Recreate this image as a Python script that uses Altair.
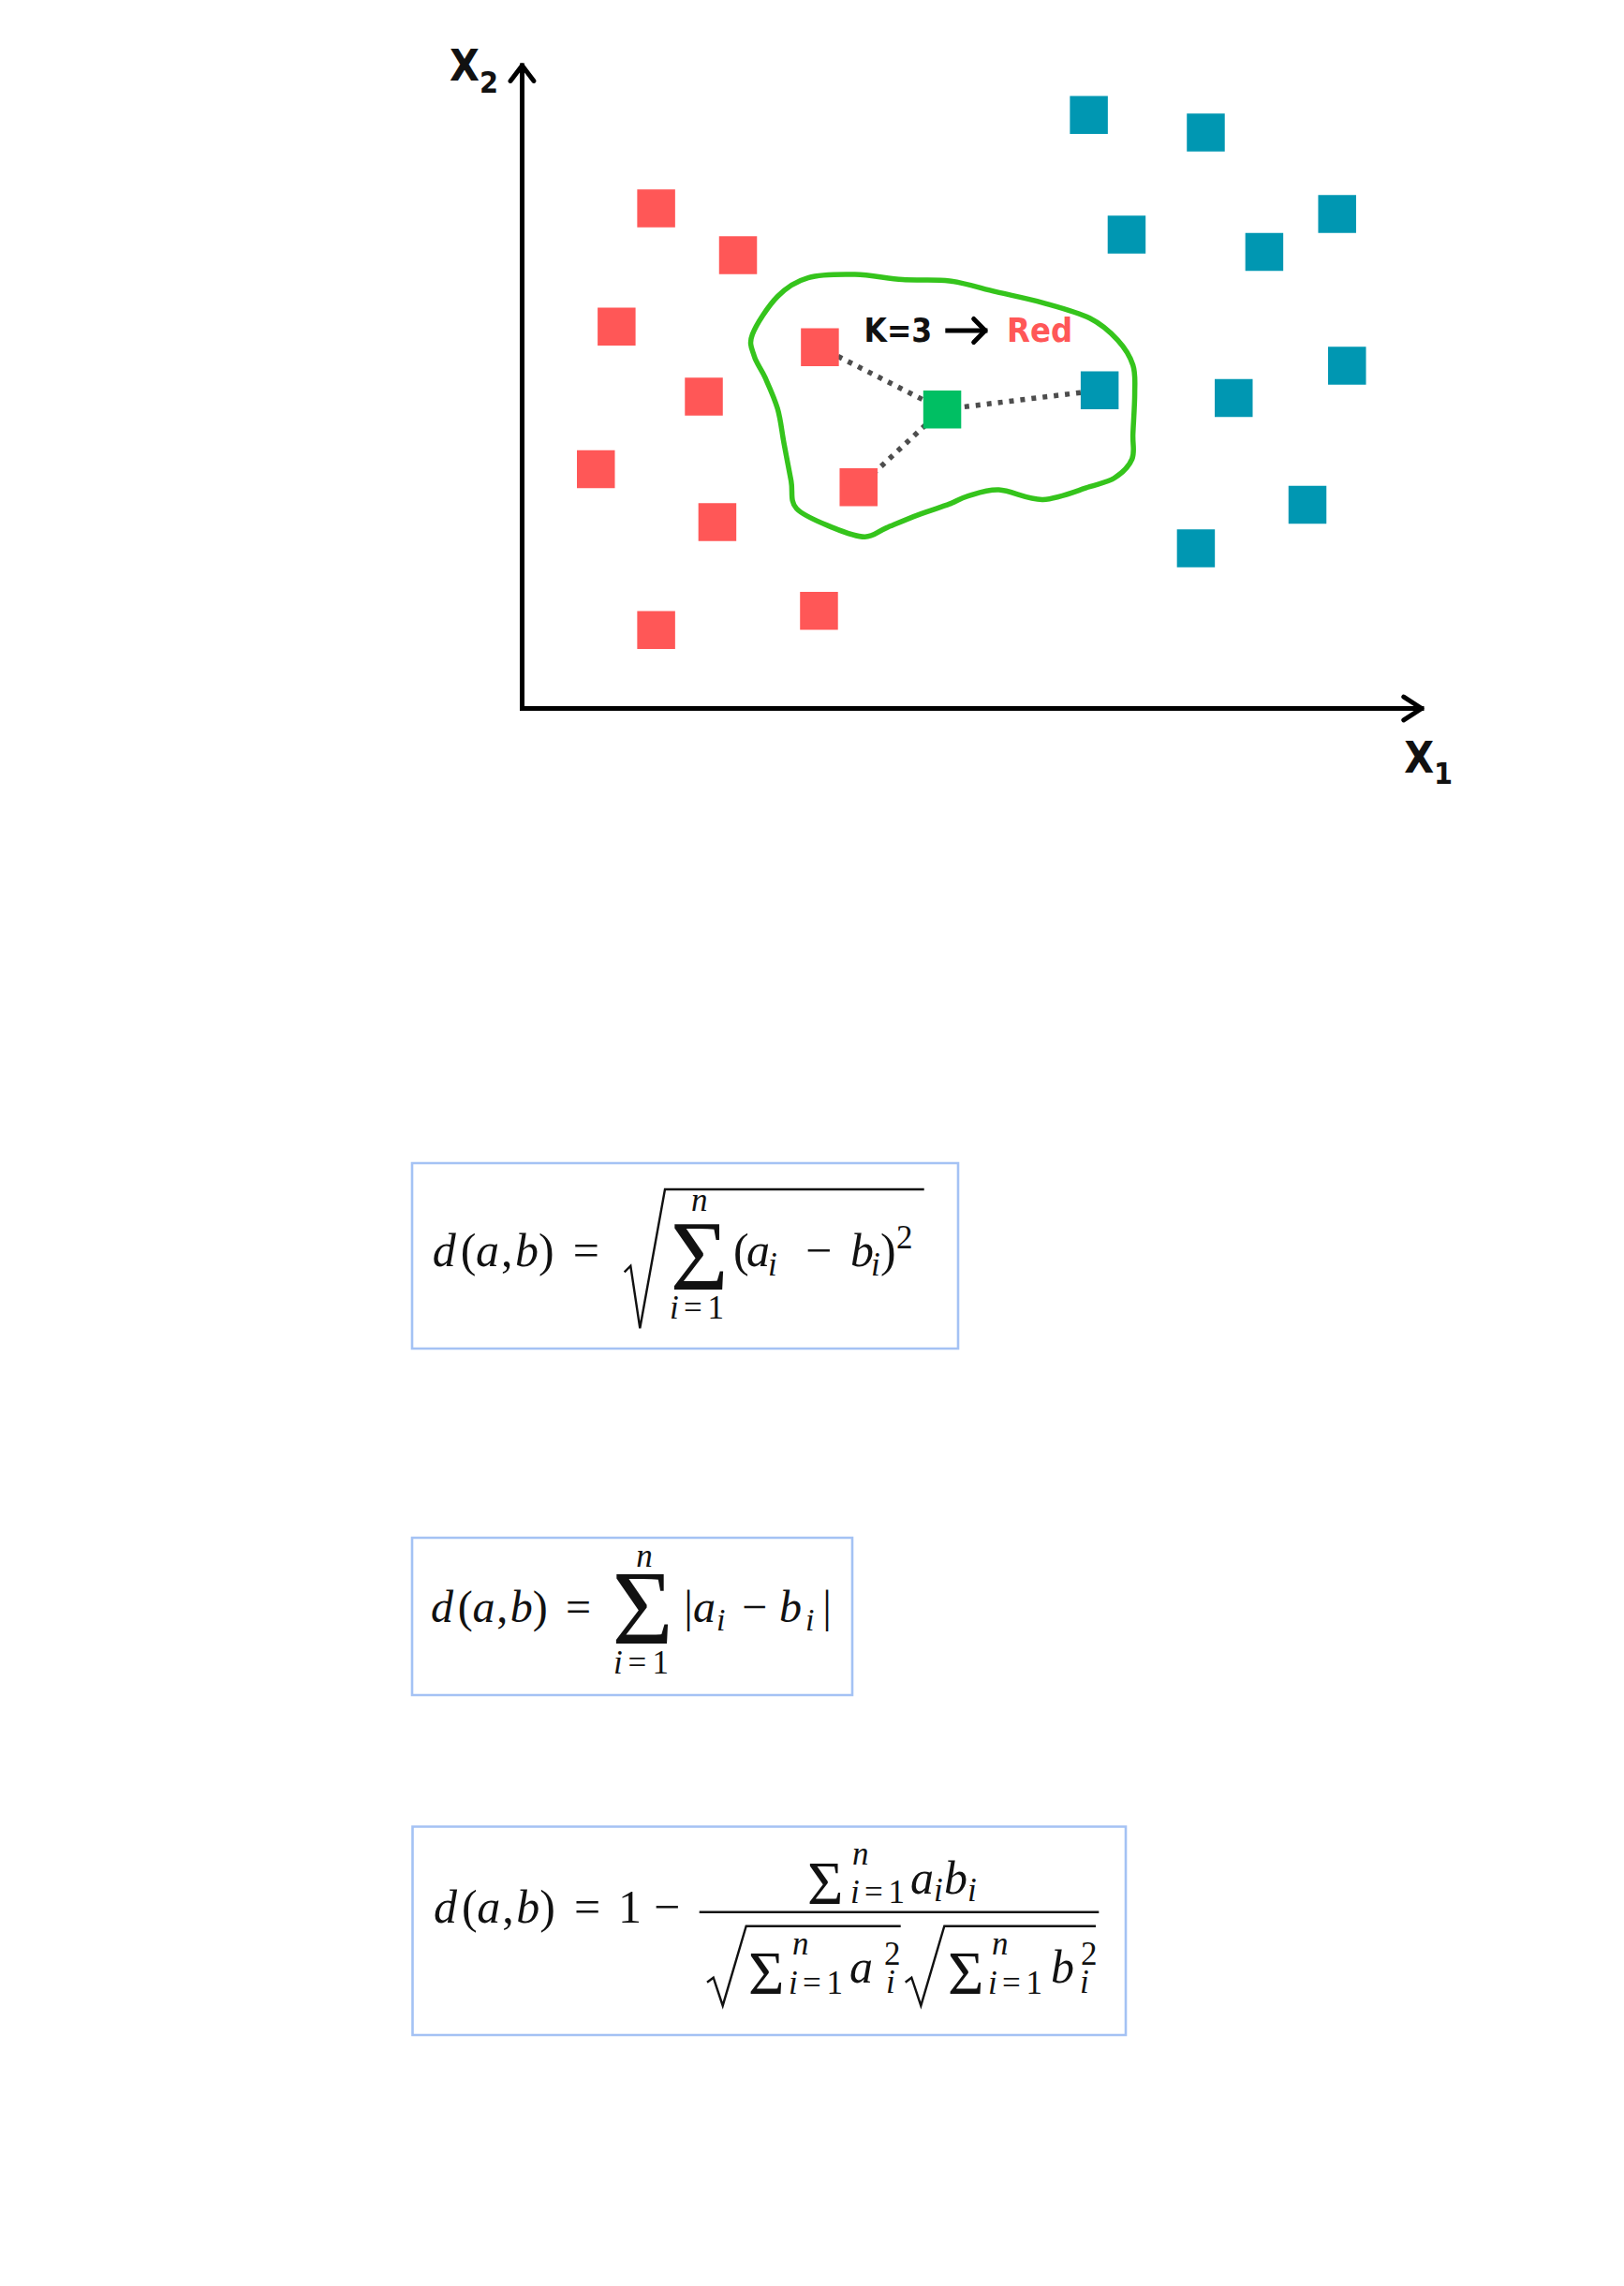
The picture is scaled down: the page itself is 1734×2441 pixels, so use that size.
import altair as alt
import pandas as pd

# ---------------- scatter data (axis units: origin 0, arrow tips at 10) ----------------
red_x1 = [1.49, 2.40, 1.05, 3.31, 2.02, 0.82, 3.74, 2.17, 3.30, 1.49]
red_x2 = [7.78, 7.05, 5.94, 5.62, 4.85, 3.72, 3.44, 2.90, 1.52, 1.22]
blue_x1 = [6.30, 7.60, 6.72, 8.25, 9.06, 6.42, 7.91, 9.17, 8.73, 7.49]
blue_x2 = [9.23, 8.96, 7.37, 7.10, 7.69, 4.95, 4.83, 5.33, 3.17, 2.49]
new_x1 = [4.67]
new_x2 = [4.65]
# the three nearest neighbours (k = 3): two red, one blue
nb_x1 = [3.31, 3.74, 6.42]
nb_x2 = [5.62, 3.44, 4.95]

# hand-drawn neighbourhood outline
blob_x1 = [2.56, 2.84, 3.18, 3.70, 4.23, 4.75, 5.27, 5.79, 6.31, 6.62, 6.79, 6.81, 6.79,
           6.78, 6.59, 6.31, 5.79, 5.30, 4.95, 4.75, 4.40, 4.05, 3.81, 3.46, 3.05, 2.99,
           2.91, 2.84, 2.70, 2.58]
blob_x2 = [5.82, 6.41, 6.70, 6.75, 6.67, 6.65, 6.48, 6.31, 6.07, 5.73, 5.34, 4.90, 4.27,
           3.88, 3.59, 3.45, 3.25, 3.40, 3.30, 3.18, 3.01, 2.81, 2.67, 2.81, 3.11, 3.54,
           4.13, 4.66, 5.15, 5.48]

RED, BLUE, GREEN = "#FF5757", "#0097B2", "#00BF63"
HAND = "'Liberation Sans Narrow', 'DejaVu Sans Condensed', 'Roboto Condensed', Roboto, sans-serif"
MATH = "'Liberation Serif'"
OFF = 8  # page margin

xs = alt.Scale(domain=[0, 10], range=[549.5, 1510], nice=False, zero=False)
ys = alt.Scale(domain=[0, 10], range=[748.5, 62], nice=False, zero=False)
X = lambda f: alt.X(f, scale=xs, axis=None)
Y = lambda f: alt.Y(f, scale=ys, axis=None)

pts = pd.DataFrame({
    "x1": red_x1 + blue_x1 + new_x1,
    "x2": red_x2 + blue_x2 + new_x2,
    "cls": ["Red"] * len(red_x1) + ["Blue"] * len(blue_x1) + ["New"],
})
squares = alt.Chart(pts).mark_square(size=1640, opacity=1, strokeWidth=0).encode(
    x=X("x1:Q"), y=Y("x2:Q"),
    color=alt.Color("cls:N", scale=alt.Scale(domain=["Red", "Blue", "New"],
                                             range=[RED, BLUE, GREEN]), legend=None),
)

nb = pd.DataFrame({"x1": new_x1 * 3, "x2": new_x2 * 3, "ex1": nb_x1, "ex2": nb_x2})
links = alt.Chart(nb).mark_rule(color="#4d4d4d", strokeWidth=5.5, strokeDash=[5, 7]).encode(
    x=X("x1:Q"), y=Y("x2:Q"), x2="ex1:Q", y2="ex2:Q")

blob = pd.DataFrame({"x1": blob_x1, "x2": blob_x2, "o": list(range(len(blob_x1)))})
outline = alt.Chart(blob).mark_line(interpolate="cardinal-closed", color="#35C41C",
                                    strokeWidth=5.5).encode(
    x=X("x1:Q"), y=Y("x2:Q"), order=alt.Order("o:Q"))

axes_df = pd.DataFrame({"x1": [0, 0, 4.73], "x2": [0, 0, 5.878],
                        "ex1": [0, 10, 5.148], "ex2": [10, 0, 5.878]})
axes = alt.Chart(axes_df).mark_rule(color="black", strokeWidth=5, strokeCap="square").encode(
    x=X("x1:Q"), y=Y("x2:Q"), x2="ex1:Q", y2="ex2:Q")

# arrow heads: y axis, x axis and the "K=3 -> Red" arrow
arrow_df = pd.DataFrame({
    "id": ["y"] * 3 + ["x"] * 3 + ["k"] * 3,
    "o": [0, 1, 2] * 3,
    "x1": [-0.13, 0, 0.13, 9.80, 10, 9.80, 5.02, 5.148, 5.02],
    "x2": [9.76, 10, 9.76, 0.18, 0, -0.18, 6.06, 5.878, 5.696],
})
arrows = alt.Chart(arrow_df).mark_line(color="black", strokeWidth=5, strokeCap="round",
                                       strokeJoin="round").encode(
    x=X("x1:Q"), y=Y("x2:Q"), detail="id:N", order=alt.Order("o:Q"))

lab = pd.DataFrame({
    "t": ["K=3", "Red", "X", "2", "X", "1"],
    "x1": [3.80, 5.388, -0.807, -0.474, 9.804, 10.135],
    "x2": [5.870, 5.870, 9.97, 9.716, -0.801, -1.034],
    "s": [35, 36, 46, 32, 46, 32],
    "c": ["#111111", RED, "#111111", "#111111", "#111111", "#111111"],
})
labels = alt.Chart(lab).mark_text(font=HAND, fontWeight="bold", align="left",
                                  baseline="middle").encode(
    x=X("x1:Q"), y=Y("x2:Q"), text="t:N",
    size=alt.Size("s:Q", scale=None, legend=None),
    color=alt.Color("c:N", scale=None))

# ---------------- formulas (typeset tokens, page pixel positions) ----------------
toks = []


def tk(t, x, y, s, st="normal", al="left"):
    toks.append({"t": t, "x": x - OFF, "y": y - OFF, "s": s, "st": st, "al": al})


def dab(x0, base, s=1.0):
    f = 50 * s
    tk("d", x0, base, f, "italic")
    tk("(", x0 + 30 * s, base, f)
    tk("a", x0 + 46.3 * s, base, f, "italic")
    tk(",", x0 + 73.3 * s, base, f)
    tk("b", x0 + 88.3 * s, base, f, "italic")
    tk(")", x0 + 113.3 * s, base, f)
    tk("=", x0 + 150 * s, base, f)


def lim(x0, x1, base, f=35):
    tk("i", x0, base, f, "italic")
    tk("=", x0 + 0.43 * (x1 - x0), base, f, "normal", "center")
    tk("1", x1, base, f, "normal", "right")


# Euclidean
dab(461.7, 1352)
tk("\u03a3", 746.7, 1377, 106, "normal", "center")
tk("n", 746.7, 1293, 35, "italic", "center")
lim(715, 773, 1408)
tk("(", 783, 1352, 50)
tk("a", 797, 1352, 50, "italic")
tk("i", 820, 1362, 35, "italic")
tk("\u2212", 860, 1352, 50)
tk("b", 908, 1352, 50, "italic")
tk("i", 930, 1362, 35, "italic")
tk(")", 940, 1352, 50)
tk("2", 957, 1333, 35)

# Manhattan
dab(460, 1732, 0.96)
tk("\u03a3", 686, 1755, 112, "normal", "center")
tk("n", 688, 1673, 35, "italic", "center")
lim(655, 714, 1787)
tk("|", 735, 1732, 48, "normal", "center")
tk("a", 740, 1732, 48, "italic")
tk("i", 765, 1741, 34, "italic")
tk("\u2212", 792, 1732, 48)
tk("b", 832, 1732, 48, "italic")
tk("i", 860, 1741, 34, "italic")
tk("|", 883, 1732, 48, "normal", "center")

# Cosine
dab(463, 2053)
tk("1", 660, 2053, 50)
tk("\u2212", 698, 2053, 50)
tk("\u03a3", 862, 2033, 66)
tk("n", 910, 1991, 35, "italic")
lim(908, 966, 2032)
tk("a", 972, 2022, 50, "italic")
tk("i", 997, 2030, 35, "italic")
tk("b", 1008, 2022, 50, "italic")
tk("i", 1033, 2030, 35, "italic")
tk("\u03a3", 799, 2129, 66)
tk("n", 846, 2087, 35, "italic")
lim(842, 900, 2129)
tk("a", 907, 2117, 50, "italic")
tk("2", 944, 2098, 35)
tk("i", 946, 2128, 35, "italic")
tk("\u03a3", 1012, 2129, 66)
tk("n", 1059, 2087, 35, "italic")
lim(1055, 1113, 2129)
tk("b", 1122, 2117, 50, "italic")
tk("2", 1154, 2098, 35)
tk("i", 1153, 2128, 35, "italic")

tok_df = pd.DataFrame(toks)
PX = lambda f: alt.X(f, scale=None, axis=None)
PY = lambda f: alt.Y(f, scale=None, axis=None)

formula_layers = []
for (st, al), g in tok_df.groupby(["st", "al"]):
    formula_layers.append(
        alt.Chart(g).mark_text(font=MATH, fontStyle=st, align=al, baseline="alphabetic",
                               color="#111111").encode(
            x=PX("x:Q"), y=PY("y:Q"), text="t:N",
            size=alt.Size("s:Q", scale=None, legend=None)))

rad = [
    [(666.7, 1358.3), (673.3, 1351.7), (683.3, 1418.3), (710, 1270), (986.7, 1270)],
    [(755, 2116.7), (761.7, 2111.7), (771.7, 2141.7), (796.7, 2056.7), (961.7, 2056.7)],
    [(966.7, 2116.7), (973.3, 2111.7), (983.3, 2141.7), (1008.3, 2056.7), (1170, 2056.7)],
]
rad_df = pd.DataFrame([{"id": i, "o": j, "x": p[0] - OFF, "y": p[1] - OFF}
                       for i, r in enumerate(rad) for j, p in enumerate(r)])
radicals = alt.Chart(rad_df).mark_line(color="#111111", strokeWidth=2.4,
                                       strokeJoin="miter").encode(
    x=PX("x:Q"), y=PY("y:Q"), detail="id:N", order=alt.Order("o:Q"))

bar_df = pd.DataFrame({"x": [746.7 - OFF], "x2": [1173.3 - OFF], "y": [2041.7 - OFF]})
frac = alt.Chart(bar_df).mark_rule(color="#111111", strokeWidth=2.6).encode(
    x=PX("x:Q"), x2="x2:Q", y=PY("y:Q"))

box_df = pd.DataFrame({
    "x": [440 - OFF, 440 - OFF, 440.5 - OFF],
    "x2": [1023 - OFF, 910 - OFF, 1202 - OFF],
    "y": [1242 - OFF, 1642 - OFF, 1950.5 - OFF],
    "y2": [1440 - OFF, 1810 - OFF, 2173 - OFF],
})
boxes = alt.Chart(box_df).mark_rect(fill="white", stroke="#A4C2F4", strokeWidth=2.6).encode(
    x=PX("x:Q"), x2="x2:Q", y=PY("y:Q"), y2="y2:Q")

chart = alt.layer(
    outline, links, axes, arrows, squares, labels,
    boxes, radicals, frac, *formula_layers,
).properties(
    width=1718, height=2400, padding=0, autosize="none", background="white"
).configure_view(stroke=None)

chart.save("out.html", embed_options={"renderer": "svg", "actions": False})
